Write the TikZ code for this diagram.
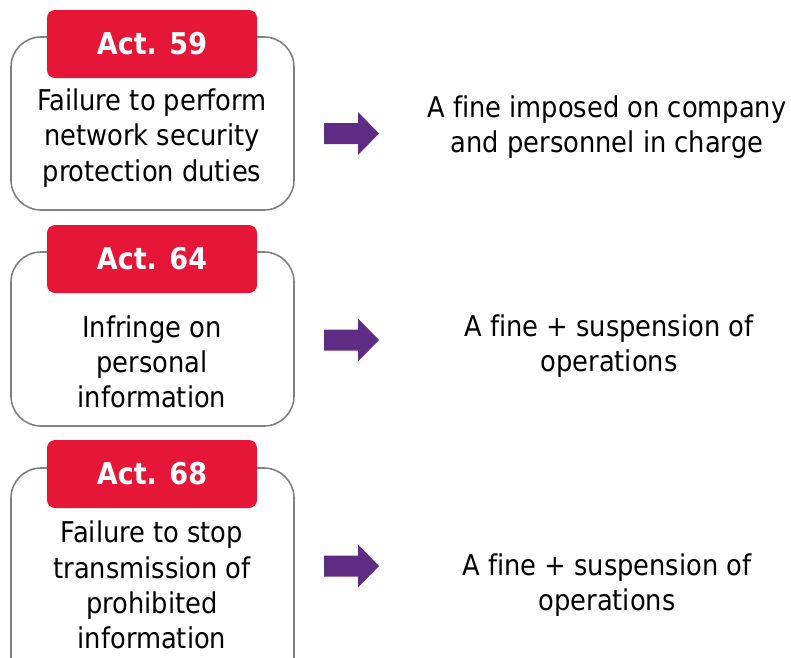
\documentclass[tikz,border=0pt]{standalone}
\usepackage{fontspec}
\setmainfont[Ligatures=NoCommon]{DejaVu Sans Condensed}
\definecolor{actred}{RGB}{230,22,56}
\definecolor{penpurple}{RGB}{94,44,130}
\definecolor{framegray}{RGB}{128,128,128}
\tikzset{
  actframe/.style={draw=framegray,line width=1.6pt,rounded corners=30pt},
  actlabel/.style={fill=actred,rounded corners=8pt,text=white,inner sep=0pt,
    minimum width=210pt,minimum height=68pt,font=\fontsize{30}{36}\selectfont\bfseries},
  deed/.style={align=center,inner sep=0pt,font=\fontsize{28.6}{35.3}\selectfont},
  penalty/.style={align=center,inner sep=0pt,font=\fontsize{28.6}{35.3}\selectfont},
  penarrow/.style={fill=penpurple}
}
\begin{document}
\begin{tikzpicture}[x=1pt,y=-1pt,line cap=round,line join=round]
  \useasboundingbox (0,0) rectangle (791,657);
  \clip (0,0) rectangle (791,657);
  % outer frames
  \draw[actframe] (11,37) rectangle (294,210);
  \draw[actframe] (11,252) rectangle (294,426);
  \draw[actframe] (11,468) rectangle (294,720);
  % red act labels
  \node[actlabel] (act59) at (152,44) {Act. 59};
  \node[actlabel] (act64) at (152,259) {Act. 64};
  \node[actlabel] (act68) at (152,474) {Act. 68};
  % offences
  \node[deed] (deed59) at (152,138) {Failure to perform\\network security\\protection duties};
  \node[deed] (deed64) at (152,362) {Infringe on\\personal\\information};
  \node[deed] (deed68) at (152,585) {Failure to stop\\transmission of\\prohibited\\information};
  % penalties
  \node[penalty] (fine59) at (607,127) {A fine imposed on company\\and personnel in charge};
  \node[penalty] (fine64) at (609,346) {A fine + suspension of\\operations};
  \node[penalty] (fine68) at (607,585) {A fine + suspension of\\operations};
  % block arrows
  \foreach \ty in {133.5,340,566}
    \fill[penarrow] (324,\ty-10.5) -- (358,\ty-10.5) -- (358,\ty-21.5) -- (379,\ty)
      -- (358,\ty+21.5) -- (358,\ty+10.5) -- (324,\ty+10.5) -- cycle;
\end{tikzpicture}
\end{document}
